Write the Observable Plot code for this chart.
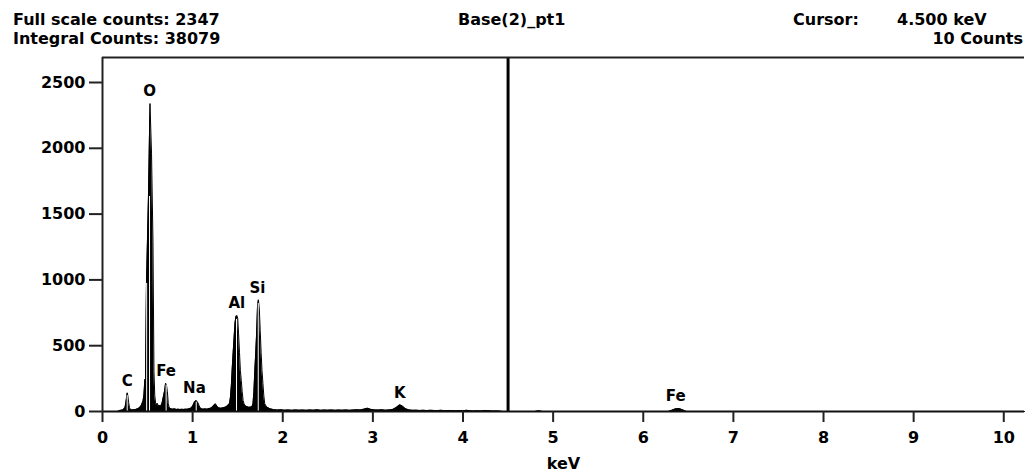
<!DOCTYPE html>
<html>
<head>
<meta charset="utf-8">
<script src="https://cdn.jsdelivr.net/npm/d3@7"></script>
<script src="https://cdn.jsdelivr.net/npm/@observablehq/plot@0.6"></script>
<style>
  html, body { margin: 0; padding: 0; background: #fff; }
  #wrap { position: relative; width: 1033px; height: 473px; font-family: "DejaVu Sans", Verdana, sans-serif; font-weight: bold; color: #000; }
  #wrap svg { position: absolute; left: 0; top: 0; }
  .hd { position: absolute; font-size: 16px; line-height: 16px; white-space: nowrap; }
</style>
</head>
<body>
<div id="wrap">
  <div class="hd" id="h1" style="left:13px; top:12px;"></div>
  <div class="hd" id="h2" style="left:13px; top:31px;"></div>
  <div class="hd" id="h3" style="left:458px; top:12px;"></div>
  <div class="hd" id="h4" style="left:793px; top:12px;"></div>
  <div class="hd" id="h5" style="left:897px; top:12px;"></div>
  <div class="hd" id="h6" style="right:10px; top:31px;"></div>
</div>
<script>
// ---- header texts ----
const fullScaleText = "Full scale counts: 2347";
const integralText = "Integral Counts: 38079";
const titleText = "Base(2)_pt1";
const cursorLabel = "Cursor:";
const cursorValueText = "4.500 keV";
const cursorCountsText = "10 Counts";

// ---- axis ticks ----
const xTicks = [0, 1, 2, 3, 4, 5, 6, 7, 8, 9, 10];
const yTicks = [0, 500, 1000, 1500, 2000, 2500];
const xMax = 10.23;
const yMax = 2690;
const cursorKeV = 4.5;

// ---- spectrum (keV, counts) ----
const energy = [
  0.17, 0.19, 0.21, 0.23, 0.25, 0.26, 0.27, 0.275, 0.28, 0.29, 0.30, 0.31, 0.33, 0.35, 0.37, 0.39,
  0.41, 0.43, 0.45, 0.46, 0.47, 0.477, 0.488, 0.51, 0.527, 0.544, 0.56, 0.571, 0.58, 0.59, 0.60,
  0.607, 0.62, 0.63, 0.64, 0.65, 0.66, 0.675, 0.69, 0.70, 0.71, 0.72, 0.73, 0.74, 0.76, 0.78,
  0.80, 0.82, 0.84, 0.86, 0.88, 0.90, 0.92, 0.94, 0.96, 0.98, 1.00, 1.02, 1.04, 1.06, 1.08,
  1.10, 1.12, 1.14, 1.16, 1.18, 1.20, 1.22, 1.24, 1.254, 1.27, 1.29, 1.31, 1.33, 1.35, 1.37,
  1.39, 1.41, 1.42, 1.43, 1.44, 1.45, 1.46, 1.47, 1.48, 1.49, 1.50, 1.51, 1.52, 1.53, 1.54,
  1.55, 1.56, 1.57, 1.58, 1.60, 1.62, 1.64, 1.66, 1.67, 1.68, 1.69, 1.70, 1.71, 1.72, 1.73,
  1.74, 1.75, 1.76, 1.77, 1.78, 1.79, 1.80, 1.82, 1.84, 1.86, 1.88,
  1.90, 1.94, 1.98, 2.02, 2.06, 2.10, 2.14, 2.18, 2.22, 2.26, 2.30, 2.34, 2.38, 2.42, 2.46,
  2.50, 2.54, 2.58, 2.62, 2.66, 2.70, 2.74, 2.78, 2.82, 2.86, 2.90, 2.94, 2.98, 3.02, 3.06,
  3.10, 3.14, 3.18, 3.22, 3.26, 3.30, 3.33, 3.36, 3.40, 3.44, 3.48, 3.52, 3.56, 3.60, 3.64,
  3.68, 3.72, 3.76, 3.80, 3.84, 3.88, 3.92, 3.96, 4.00, 4.04, 4.08, 4.12, 4.16, 4.20, 4.24,
  4.28, 4.32, 4.36, 4.40, 4.44, 4.80, 4.84, 4.88, 6.28, 6.32, 6.36, 6.40, 6.44, 6.48, 10.23
];
const counts = [
  0, 8, 10, 14, 30, 70, 120, 142, 125, 70, 30, 15, 12, 14, 16, 20,
  28, 45, 80, 130, 243, 243, 973, 1634, 2340, 1963, 1292, 304, 120, 60, 45,
  63, 40, 48, 40, 45, 60, 110, 160, 215, 200, 150, 60, 30, 20, 18,
  20, 16, 18, 15, 17, 16, 18, 17, 20, 25, 40, 70, 84, 65, 30,
  20, 18, 20, 17, 22, 25, 35, 50, 58, 40, 28, 25, 27, 30, 35,
  45, 60, 110, 200, 335, 450, 560, 670, 720, 730, 710, 590, 450, 310, 235,
  150, 84, 60, 45, 38, 33, 33, 38, 60, 150, 310, 440, 590, 800, 849,
  780, 615, 450, 310, 213, 120, 60, 35, 28, 20, 18,
  14, 11, 13, 10, 12, 9, 12, 10, 11, 9, 12, 10, 13, 9, 11,
  10, 12, 9, 11, 10, 12, 9, 11, 13, 12, 18, 25, 16, 12, 11,
  13, 10, 12, 15, 30, 51, 40, 22, 12, 9, 10, 8, 9, 7, 9,
  8, 7, 9, 6, 8, 7, 6, 7, 5, 9, 5, 4, 5, 4, 8,
  7, 3, 4, 3, 0, 0, 6, 0, 0, 10, 20, 22, 12, 0, 0
];

// ---- thin light stripes seen inside the peaks (keV, height in counts) ----
const stripeEnergy = [0.274, 0.49, 0.522, 0.706, 1.04, 1.487, 1.728];
const stripeTop = [120, 973, 1634, 200, 70, 700, 820];

// ---- peak labels ----
const peakNames = ["C", "O", "Fe", "Na", "Al", "Si", "K", "Fe"];
const peakEnergy = [0.274, 0.524, 0.706, 1.02, 1.49, 1.72, 3.30, 6.36];
const peakCounts = [142, 2340, 215, 84, 730, 849, 51, 22];

const spectrum = energy.map((e, i) => ({keV: e, counts: counts[i]}));
const peaks = peakNames.map((n, i) => ({name: n, keV: peakEnergy[i], counts: peakCounts[i]}));
const stripes = stripeEnergy.map((e, i) => ({keV: e, top: stripeTop[i]}));

document.getElementById("h1").textContent = fullScaleText;
document.getElementById("h2").textContent = integralText;
document.getElementById("h3").textContent = titleText;
document.getElementById("h4").textContent = cursorLabel;
document.getElementById("h5").textContent = cursorValueText;
document.getElementById("h6").textContent = cursorCountsText;

const chart = Plot.plot({
  width: 1033,
  height: 473,
  marginLeft: 102,
  marginRight: 9,
  marginTop: 57,
  marginBottom: 62,
  style: {fontFamily: "DejaVu Sans, Verdana, sans-serif", fontWeight: "bold", fontSize: "16px", color: "#000", background: "transparent"},
  x: {domain: [0, xMax]},
  y: {domain: [0, yMax]},
  marks: [
    Plot.areaY(spectrum, {x: "keV", y: "counts", fill: "#000"}),
    Plot.lineY(spectrum, {x: "keV", y: "counts", stroke: "#000", strokeWidth: 1}),
    Plot.ruleX(stripes, {x: "keV", y1: 0, y2: "top", stroke: "#fff", strokeWidth: 1}),
    Plot.ruleX([cursorKeV], {stroke: "#000", strokeWidth: 3}),
    Plot.ruleY([0], {stroke: "#111", strokeWidth: 2}),
    Plot.ruleY([yMax], {stroke: "#222", strokeWidth: 2}),
    Plot.ruleX([0], {stroke: "#222", strokeWidth: 2}),
    Plot.text(peaks, {x: "keV", y: "counts", text: "name", dy: -12, fontSize: 15, fontWeight: "bold", fill: "#000"}),
    Plot.axisX({ticks: xTicks, tickFormat: d => String(d), tickSize: 11, tickPadding: 9, label: "keV", labelAnchor: "center", labelArrow: "none", labelOffset: 57, stroke: "#222", strokeWidth: 2}),
    Plot.axisY({ticks: yTicks, tickFormat: d => String(d), tickSize: 13, tickPadding: 4, label: null, stroke: "#222", strokeWidth: 2})
  ]
});
document.getElementById("wrap").insertBefore(chart, document.getElementById("wrap").firstChild);
</script>
</body>
</html>
